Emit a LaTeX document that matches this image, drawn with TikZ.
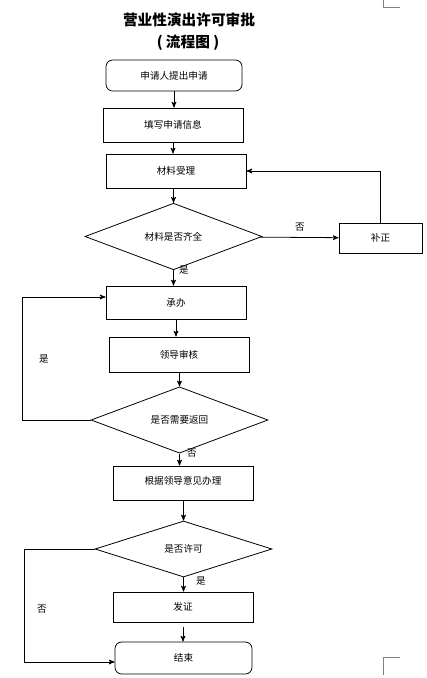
\documentclass[tikz,border=0pt]{standalone}
\usepackage{fontspec}
\newfontfamily\cjk{Noto Sans CJK SC}
\usepackage{tikz}
\usetikzlibrary{arrows}
\usetikzlibrary{shapes.geometric}

\begin{document}
\begin{tikzpicture}[x=0.75pt,y=-0.75pt,->,>=stealth',line width=0.6pt,
    box node/.style={rectangle,draw,-,minimum width=105pt,minimum height=25.5pt,inner sep=0pt,font=\cjk\fontsize{7.2}{8}\selectfont},
    round node/.style={box node,rounded corners=5pt},
    choice node/.style={diamond,draw,-,minimum width=132.75pt,minimum height=42pt,inner sep=0pt,font=\cjk\fontsize{7.2}{8}\selectfont},
    tag node/.style={inner sep=0pt,font=\cjk\fontsize{7.2}{8}\selectfont}]
   \useasboundingbox (0,0) rectangle (427,678);
   % title
   \node[font=\cjk\bfseries\fontsize{11}{13}\selectfont] (title) at (189,20) {营业性演出许可审批};
   \node[font=\cjk\bfseries\fontsize{11}{13}\selectfont] (subtitle) at (188,43) {( 流程图 )};
   % main column
   \node[round node,minimum width=102pt,minimum height=23.25pt] (apply) at (174,75.5) {申请人提出申请};
   \node[box node] (fill) at (173,125) {填写申请信息};
   \node[box node] (accept) at (176,171) {材料受理};
   \node[choice node] (complete) at (173.5,236.5) {材料是否齐全};
   \node[box node,minimum width=62.25pt,minimum height=22.5pt] (amend) at (380.5,238) {补正};
   \node[box node,minimum height=24.75pt] (handle) at (176,302.5) {承办};
   \node[box node,minimum height=26.25pt] (review) at (179,354.5) {领导审核};
   \node[choice node] (back) at (179.5,420) {是否需要返回};
   \node[box node] (opinion) at (183,483) {\raisebox{4pt}{根据领导意见办理}};
   \node[choice node] (permit) at (183.5,549) {是否许可};
   \node[box node,minimum height=22.5pt] (issue) at (183,607) {发证};
   \node[round node,minimum width=102.75pt,minimum height=24pt] (finish) at (183.5,658) {结束};
   \coordinate (loopa) at (22,297);
   \coordinate (loopb) at (24,662);
   % labels
   \node[tag node] (no1) at (300,227) {否};
   \node[tag node] (yes1) at (184,270) {是};
   \node[tag node] (yes2) at (44,359) {是};
   \node[tag node] (no2) at (192,453) {否};
   \node[tag node] (yes3) at (201,581) {是};
   \node[tag node] (no3) at (42,609) {否};
   % arrows
   \path (apply) edge (apply |- fill.north);
   \path (fill) edge (fill |- accept.north);
   \path (accept.south -| complete.north) edge (complete);
   \path (complete) edge (amend);
   \draw (amend.north) |- (accept.east);
   \path (complete) edge (complete |- handle.north);
   \path (handle) edge (handle |- review.north);
   \path (review.south -| back.north) edge (back);
   \draw (back.west) -| (loopa) -- (loopa -| handle.west);
   \path (back.south) edge (back.south |- opinion.north);
   \path (opinion.south -| permit.north) edge (permit);
   \path (permit) edge (permit |- issue.north);
   \path ([yshift=-3.75pt]issue.south) edge (issue |- finish.north);
   \draw (permit.west) -| (loopb) -- (loopb -| finish.west);
   % page corner marks
   \draw[-,gray,line width=0.5pt] (383,0) -- (383,7) -- (400,7);
   \draw[-,gray,line width=0.5pt] (400,657) -- (383,657) -- (383,675);
\end{tikzpicture}
\end{document}
